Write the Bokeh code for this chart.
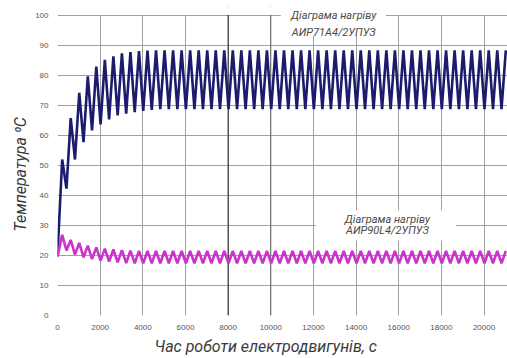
from bokeh.plotting import figure
from bokeh.models import Label, FixedTicker, Range1d, BoxAnnotation, Span, Title
from bokeh.embed import file_html
from bokeh.resources import INLINE

# ---- data ----
cycle_period = 400      # s, period of the load cycle
first_peak = 220        # s, time of the first peak

start_temp_big = 20.0
big_peaks = [52.0, 65.8, 74.2, 79.7, 83.0, 85.2, 86.4, 87.4, 87.8, 88.1, 88.3] + [88.4] * 42
big_troughs = [42.3, 52.0, 57.8, 61.7, 63.7, 65.4, 66.7, 67.3, 67.8, 68.2, 68.5] + [68.8] * 41

start_temp_small = 19.5
small_peaks = [26.9, 25.2, 24.2, 23.3, 22.7, 22.3, 22.0, 21.8, 21.6] + [21.5] * 44
small_troughs = [21.7, 20.3, 19.4, 18.8, 18.3, 18.0, 17.7, 17.5, 17.4] + [17.4] * 43

x_ticks = [0, 2000, 4000, 6000, 8000, 10000, 12000, 14000, 16000, 18000, 20000]
y_ticks = [0, 10, 20, 30, 40, 50, 60, 70, 80, 90, 100]

label_big = "Діаграма нагріву\nАИР71А4/2УПУЗ"
label_small = "Діаграма нагріву\nАИР90L4/2УПУЗ"
x_title = "Час роботи електродвигунів, с"
y_title = "Температура ⁰С"


def build(start, peaks, troughs):
    t, v = [0], [start]
    for i, pk in enumerate(peaks):
        t.append(first_peak + i * cycle_period)
        v.append(pk)
        if i < len(troughs):
            t.append(first_peak + i * cycle_period + cycle_period / 2)
            v.append(troughs[i])
    return t, v


bt, bv = build(start_temp_big, big_peaks, big_troughs)
st, sv = build(start_temp_small, small_peaks, small_troughs)

p = figure(width=507, height=358, output_backend="svg", toolbar_location=None,
           x_range=Range1d(0, 21100), y_range=Range1d(0, 103),
           min_border_left=57, min_border_right=0, min_border_top=6, min_border_bottom=43)
p.outline_line_color = None
p.background_fill_color = "white"
p.border_fill_color = "white"

for ax in (p.xaxis[0], p.yaxis[0]):
    ax.axis_line_color = None
    ax.major_tick_line_color = None
    ax.minor_tick_line_color = None
    ax.major_label_text_font = "Liberation Sans"
    ax.major_label_text_font_size = "8px"
    ax.major_label_text_color = "#555555"

p.xaxis.ticker = FixedTicker(ticks=x_ticks)
p.yaxis.ticker = FixedTicker(ticks=y_ticks)
p.xaxis.major_label_standoff = 3
p.yaxis.major_label_standoff = 3

p.xgrid.grid_line_color = "#a0a0a0"
p.ygrid.grid_line_color = "#a0a0a0"
p.xgrid.grid_line_width = 1
p.ygrid.grid_line_width = 1

# darker vertical grid lines as in the reference
p.add_layout(Span(location=x_ticks[4], dimension="height", line_color="#222222", line_width=1, level="underlay"))
p.add_layout(Span(location=x_ticks[5], dimension="height", line_color="#666666", line_width=1, level="underlay"))

p.line(bt, bv, line_color="#1c1c6e", line_width=2.6)
p.line(st, sv, line_color="#cc33cc", line_width=2.6)

# hide grid stubs above the 100 line
p.add_layout(BoxAnnotation(bottom=y_ticks[-1] + 0.2, fill_color="white", fill_alpha=1.0,
                           line_color=None))
# white boxes behind the two captions
p.add_layout(BoxAnnotation(left=10470, right=15400, bottom=93.3, top=103,
                           fill_color="white", fill_alpha=1.0, line_color=None))
p.add_layout(BoxAnnotation(left=12110, right=18680, bottom=25.0, top=35.0,
                           fill_color="white", fill_alpha=1.0, line_color=None))

lab1 = Label(x=12950, y=97.2, text=label_big, text_align="center", text_baseline="middle",
             text_font="Roboto", text_font_style="italic", text_font_size="11px",
             text_line_height=1.35, text_color="#4a4a4a")
lab2 = Label(x=15470, y=30.2, text=label_small, text_align="center", text_baseline="middle",
             text_font="Roboto", text_font_style="italic", text_font_size="11px",
             text_line_height=0.85, text_color="#4a4a4a")
p.add_layout(lab1)
p.add_layout(lab2)

# axis titles
p.add_layout(Title(text=x_title, align="left", offset=97, standoff=4, text_font="Roboto",
                   text_font_style="italic", text_font_size="16px", text_color="#3a3a3a"), "below")
p.add_layout(Title(text=y_title, align="left", offset=84, standoff=6, text_font="Roboto",
                   text_font_style="italic", text_font_size="16px", text_color="#3a3a3a"), "left")

open("out.html", "w").write(file_html(p, INLINE))
